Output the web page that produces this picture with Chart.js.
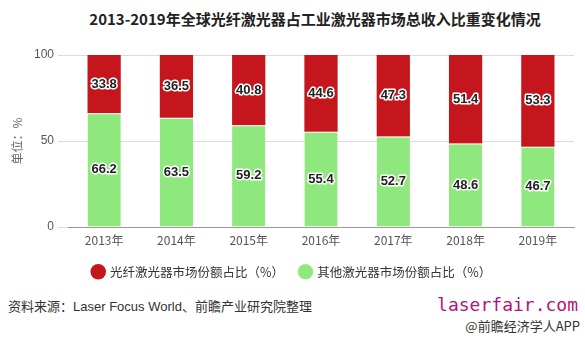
<!DOCTYPE html>
<html lang="zh">
<head>
  <meta charset="UTF-8" />
  <title>全球光纤激光器市场份额</title>
  <script src="https://cdn.jsdelivr.net/npm/chart.js"></script>
  <style>
    body { margin: 0; background: #fff; font-family: "Noto Sans CJK SC", sans-serif; }
    #wrap { position: relative; width: 585px; height: 338px; overflow: hidden; }
    #title { position: absolute; top: 8px; left: 45px; width: 540px; text-align: center;
      font-size: 15px; font-weight: bold; color: #222; }
    #chartBox { position: absolute; top: 35px; left: 0; width: 585px; height: 253px; }
    #source { position: absolute; top: 296px; left: 8px; font-size: 13px; color: #333; }
    #source .en { font-family: "Liberation Sans", Arial, sans-serif; font-size: 13px; }
    #brand { position: absolute; top: 294px; right: 7px; font-family: "DejaVu Sans Mono", monospace;
      font-size: 18px; color: #b8127a; }
    #app { position: absolute; top: 316px; right: 5px; font-size: 13px; color: #333; }
  </style>
</head>
<body>
  <div id="wrap">
    <div id="title">2013-2019年全球光纤激光器占工业激光器市场总收入比重变化情况</div>
    <div id="chartBox"><canvas id="chart"></canvas></div>
    <div id="source">资料来源：<span class="en">Laser Focus World</span>、前瞻产业研究院整理</div>
    <div id="brand">laserfair.com</div>
    <div id="app">@前瞻经济学人APP</div>
  </div>

  <script>
    // data
    const years = ['2013年', '2014年', '2015年', '2016年', '2017年', '2018年', '2019年'];
    const fiberShare = [33.8, 36.5, 40.8, 44.6, 47.3, 51.4, 53.3];
    const otherShare = [66.2, 63.5, 59.2, 55.4, 52.7, 48.6, 46.7];
    const yTicks = [0, 50, 100];

    const RED = '#c4161c';
    const GREEN = '#8ee87e';

    // value labels in the middle of each segment, dark text with white halo
    const barLabels = {
      id: 'barLabels',
      afterDatasetsDraw(chart) {
        const ctx = chart.ctx;
        ctx.save();
        ctx.font = 'bold 13px "Liberation Sans", Arial, sans-serif';
        ctx.textAlign = 'center';
        ctx.textBaseline = 'middle';
        ctx.lineJoin = 'round';
        chart.data.datasets.forEach((ds, i) => {
          chart.getDatasetMeta(i).data.forEach((bar, j) => {
            const y = (bar.y + bar.base) / 2;
            const txt = ds.data[j].toFixed(1);
            ctx.lineWidth = 3;
            ctx.strokeStyle = '#fff';
            ctx.strokeText(txt, bar.x, y);
            ctx.fillStyle = '#222';
            ctx.fillText(txt, bar.x, y);
          });
        });
        ctx.restore();
      }
    };

    new Chart(document.getElementById('chart'), {
      type: 'bar',
      data: {
        labels: years,
        datasets: [
          { label: '其他激光器市场份额占比（%）', data: otherShare, backgroundColor: GREEN,
            borderColor: '#fff', borderWidth: { top: 1 }, borderSkipped: false },
          { label: '光纤激光器市场份额占比（%）', data: fiberShare, backgroundColor: RED }
        ]
      },
      options: {
        responsive: true,
        maintainAspectRatio: false,
        animation: false,
        layout: { padding: { top: 20, left: 10, right: 11, bottom: 0 } },
        datasets: { bar: { barPercentage: 0.46, categoryPercentage: 1 } },
        scales: {
          x: {
            stacked: true,
            grid: { display: false, drawTicks: true, tickLength: 4, tickColor: '#999' },
            border: { color: '#999' },
            ticks: { color: '#555', font: { size: 12, family: 'Noto Sans CJK SC' }, padding: 2 }
          },
          y: {
            stacked: true,
            min: 0,
            max: 100,
            afterBuildTicks: (scale) => { scale.ticks = yTicks.map(v => ({ value: v })); },
            afterFit: (scale) => { scale.width = 58; },
            grid: { color: '#dcdcdc', tickLength: 10, tickColor: '#dcdcdc' },
            border: { display: false },
            ticks: { color: '#555', font: { size: 12, family: 'Liberation Sans' }, padding: 4 },
            title: { display: true, text: '单位：%', color: '#666',
              font: { size: 12, family: 'Noto Sans CJK SC' }, padding: 0 }
          }
        },
        plugins: {
          legend: {
            position: 'bottom',
            reverse: true,
            labels: {
              usePointStyle: true,
              pointStyle: 'circle',
              boxWidth: 11,
              boxHeight: 11,
              padding: 16,
              color: '#333',
              font: { size: 12.5, family: 'Noto Sans CJK SC' }
            }
          },
          tooltip: { enabled: false }
        }
      },
      plugins: [barLabels]
    });
  </script>
</body>
</html>
